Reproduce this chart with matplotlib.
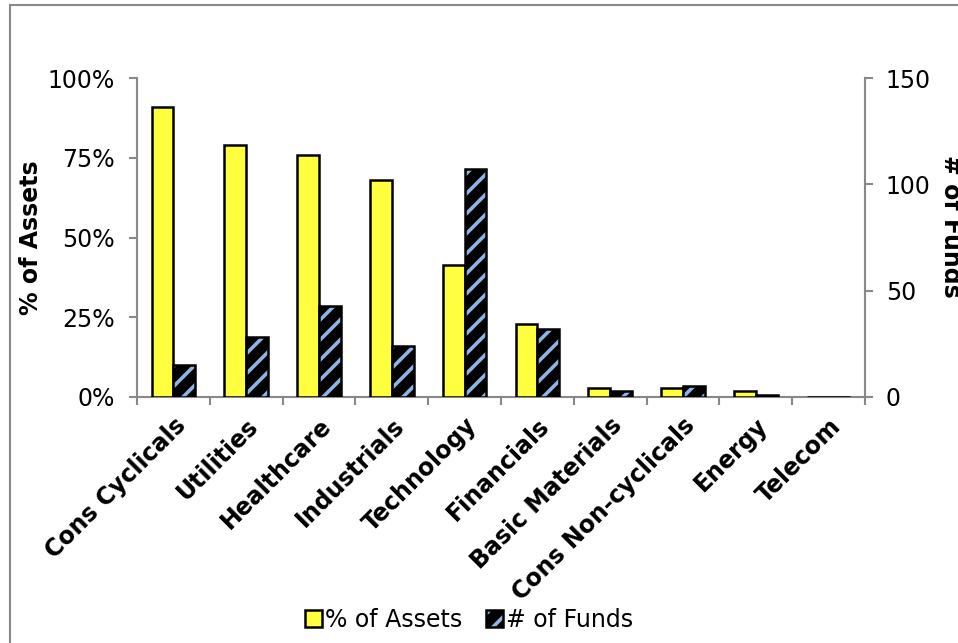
import matplotlib
matplotlib.use("Agg")
import matplotlib.pyplot as plt
from matplotlib.patches import Patch, Rectangle
from matplotlib.legend_handler import HandlerTuple
from matplotlib.ticker import FuncFormatter, FixedLocator
from matplotlib.backend_bases import GraphicsContextBase
import numpy as np

categories = ["Cons Cyclicals", "Utilities", "Healthcare", "Industrials", "Technology",
              "Financials", "Basic Materials", "Cons Non-cyclicals", "Energy", "Telecom"]
pct_assets = [0.91, 0.79, 0.76, 0.68, 0.414, 0.23, 0.028, 0.027, 0.019, 0.0]
num_funds = [15, 28, 43, 24, 107, 32, 3, 5, 1, 0]

# denser hatch (Excel "wide upward diagonal" look)
_orig_hatch = GraphicsContextBase.get_hatch_path
def _hatch_path(self, density=6.0):
    return _orig_hatch(self, density=10.0)
GraphicsContextBase.get_hatch_path = _hatch_path

plt.rcParams['font.family'] = ['DejaVu Sans']
plt.rcParams['hatch.linewidth'] = 2.6

YELLOW = '#FFFF40'
BLUE = '#8DB4E2'
GRAY = '#888888'

fig = plt.figure(figsize=(9.58, 6.43), dpi=100)
# outer chart border (cropped at right/bottom)
fig.patches.append(Rectangle((10/958, -0.1), 1.2, 1.1 - 5/643, transform=fig.transFigure,
                             fill=False, edgecolor=GRAY, linewidth=1.5))

ax = fig.add_axes([137/958, 1 - 397/643, (865 - 137)/958, (397 - 78)/643])
ax2 = ax.twinx()

x = np.arange(len(categories)) + 0.5
w = 0.3
ax.bar(x - w/2, pct_assets, width=w, color=YELLOW, edgecolor='black', linewidth=1.8, zorder=3)
ax2.bar(x + w/2, num_funds, width=w, color='black', edgecolor=BLUE, hatch='/', linewidth=0, zorder=3)
ax2.bar(x + w/2, num_funds, width=w, fill=False, edgecolor='black', linewidth=1.8, zorder=4)

ax.set_xlim(0, len(categories))
ax.set_ylim(0, 1)
ax2.set_ylim(0, 150)
ax.set_yticks([0, 0.25, 0.5, 0.75, 1.0])
ax.yaxis.set_major_formatter(FuncFormatter(lambda v, p: f"{int(round(v*100))}%"))
ax2.set_yticks([0, 50, 100, 150])

ax.set_xticks(x)
ax.set_xticklabels(categories, rotation=45, ha='right', rotation_mode='anchor',
                   fontsize=17, fontweight='bold')
ax.xaxis.set_minor_locator(FixedLocator(np.arange(len(categories) + 1)))
ax.tick_params(axis='x', which='major', length=0, pad=12)
ax.tick_params(axis='x', which='minor', length=6, color=GRAY, width=1.5, direction='out')
ax.tick_params(axis='y', length=6, color=GRAY, width=1.5, labelsize=17, pad=10)
ax2.tick_params(axis='y', length=6, color=GRAY, width=1.5, labelsize=17, pad=9)

for a in (ax, ax2):
    a.spines['top'].set_visible(False)
    for s in ('left', 'right', 'bottom'):
        a.spines[s].set_color(GRAY)
        a.spines[s].set_linewidth(1.5)
ax.spines['right'].set_visible(False)
ax2.spines['left'].set_visible(False)
ax2.spines['bottom'].set_visible(False)

ax.set_ylabel('% of Assets', fontsize=17, fontweight='bold', labelpad=3)
ax2.set_ylabel('# of Funds', fontsize=17, fontweight='bold', rotation=270, va='bottom')
ax2.yaxis.set_label_coords((939 - 137) / (865 - 137), (397 - 226) / (397 - 78))

h1 = Patch(facecolor=YELLOW, edgecolor='black', linewidth=1.8)
h2a = Patch(facecolor='black', edgecolor=BLUE, hatch='/', linewidth=0)
h2b = Patch(fill=False, edgecolor='black', linewidth=1.8)
fig.legend([h1, (h2a, h2b)], ['% of Assets', '# of Funds'],
           handler_map={tuple: HandlerTuple(ndivide=1)},
           loc='center', bbox_to_anchor=(0.49, 1 - 620/643), ncol=2, frameon=False,
           fontsize=17, handlelength=0.7, handleheight=0.7, handletextpad=0.15,
           columnspacing=1.0)

fig.savefig('out.png', dpi=100)
